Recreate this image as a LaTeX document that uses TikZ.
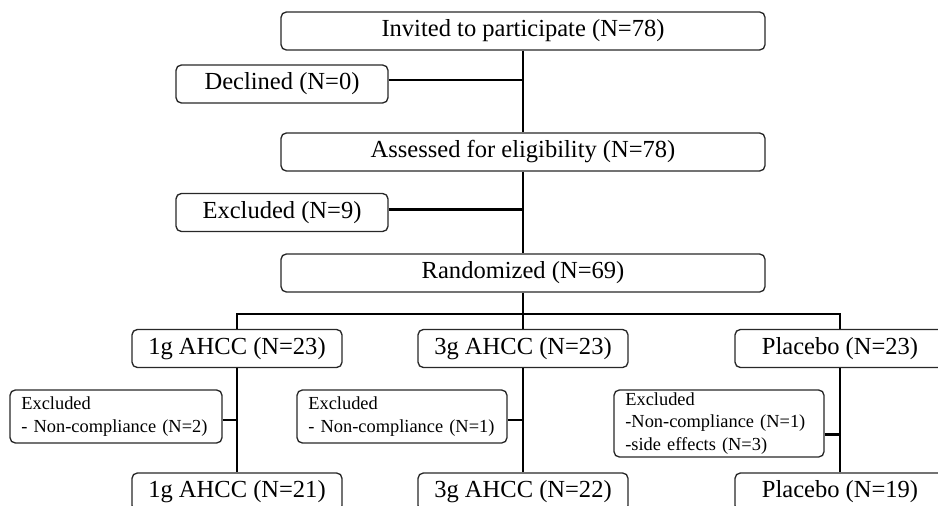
\documentclass[tikz,border=0pt]{standalone}
\usepackage{fontspec}
\setmainfont{Liberation Serif}

\begin{document}
\begin{tikzpicture}[x=0.75pt,y=0.75pt,yscale=-1,xscale=1,
  box/.style={draw={rgb, 255:red, 40; green, 40; blue, 40 }, line width=1pt, rounded corners=4pt, inner sep=0pt, minimum height=28.5pt, font=\fontsize{18.4pt}{22pt}\selectfont},
  notebox/.style={draw={rgb, 255:red, 40; green, 40; blue, 40 }, line width=1pt, rounded corners=4pt, inner xsep=8.5pt, inner ysep=0pt, align=left, font=\fontsize{13.8pt}{17pt}\selectfont},
  link/.style={line width=2.2pt}]
%set diagram to 938 x 506
\clip (0,0) rectangle (938,506);

% Text Node
\node [box, minimum width=363pt] (inv) at (523,31) {Invited to participate (N=78)};
% Text Node
\node [box, minimum width=159pt] (decl) at (282,84) {Declined (N=0)};
% Text Node
\node [box, minimum width=363pt] (ass) at (523,152) {Assessed for eligibility (N=78)};
% Text Node
\node [box, minimum width=159pt] (excl) at (282,212.5) {Excluded (N=9)};
% Text Node
\node [box, minimum width=363pt] (rand) at (523,273) {Randomized (N=69)};

% Text Node
\node [box, minimum width=157.5pt] (g1) at (237,348.5) {1g AHCC (N=23)};
% Text Node
\node [box, minimum width=157.5pt] (g2) at (523,348.5) {3g AHCC (N=23)};
% Text Node
\node [box, minimum width=157.5pt] (g3) at (840,348.5) {Placebo (N=23)};

% Text Node
\node [notebox, text width=142pt, minimum height=39.75pt] (ex1) at (116,416.5) {Excluded\\- Non-compliance (N=2)};
% Text Node
\node [notebox, text width=140.5pt, minimum height=39.75pt] (ex2) at (402,416.5) {Excluded\\- Non-compliance (N=1)};
% Text Node
\node [notebox, text width=140.5pt, minimum height=50.25pt] (ex3) at (719,423.5) {Excluded\\{-}Non-compliance (N=1)\\{-}side effects (N=3)};

% Text Node
\node [box, minimum width=157.5pt] (f1) at (237,492) {1g AHCC (N=21)};
% Text Node
\node [box, minimum width=157.5pt] (f2) at (523,492) {3g AHCC (N=22)};
% Text Node
\node [box, minimum width=157.5pt] (f3) at (840,492) {Placebo (N=19)};

%Connectors
\coordinate (split) at (523,314);
\coordinate (jd) at ([yshift=-3pt]decl.east);
\coordinate (je) at ([yshift=-2.6pt]excl.east);
\coordinate (j1) at ([yshift=2.6pt]ex1.east);
\coordinate (j2) at ([yshift=2.6pt]ex2.east);
\coordinate (j3) at ([yshift=7.9pt]ex3.east);

\draw [link] (inv) -- (ass);
\draw [link] (ass) -- (rand);
\draw [link] (jd) -- (jd -| inv);
\draw [link] (je) -- (je -| ass);
\draw [link] (rand) -- (split);
\draw [link] (g1) |- (split) -| (g3);
\draw [link] (split) -- (g2);
\draw [link] (g1) -- (f1);
\draw [link] (g2) -- (f2);
\draw [link] (g3) -- (f3);
\draw [link] (j1) -- (j1 -| g1);
\draw [link] (j2) -- (j2 -| g2);
\draw [link] (j3) -- (j3 -| g3);

\end{tikzpicture}
\end{document}
